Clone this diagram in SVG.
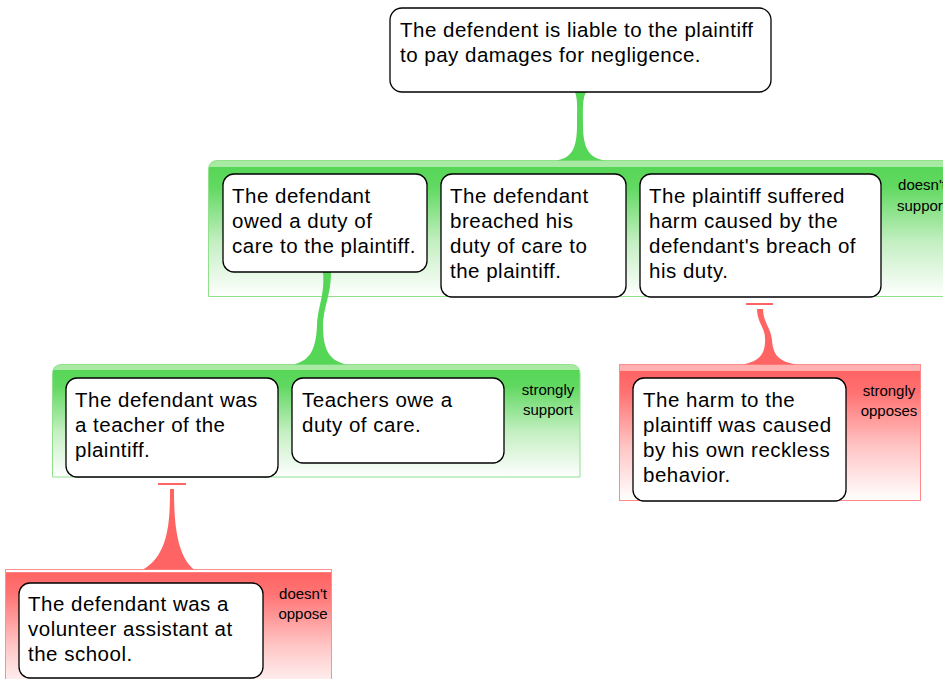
<svg xmlns="http://www.w3.org/2000/svg" width="943" height="679" viewBox="0 0 943 679">
<defs>
<linearGradient id="gGreen" x1="0" y1="0" x2="0" y2="1">
<stop offset="0" stop-color="#a8eaa4"/>
<stop offset="0.045" stop-color="#a8eaa4"/>
<stop offset="0.05" stop-color="#56d656"/>
<stop offset="0.2" stop-color="#62d962"/>
<stop offset="0.6" stop-color="#c4efc2"/>
<stop offset="1" stop-color="#ffffff"/>
</linearGradient>
<linearGradient id="gRed" x1="0" y1="0" x2="0" y2="1">
<stop offset="0" stop-color="#ffb0b0"/>
<stop offset="0.045" stop-color="#ffb0b0"/>
<stop offset="0.05" stop-color="#ff6464"/>
<stop offset="0.2" stop-color="#ff7070"/>
<stop offset="0.6" stop-color="#ffc4c4"/>
<stop offset="1" stop-color="#ffffff"/>
</linearGradient>
<linearGradient id="gRed2" x1="0" y1="0" x2="0" y2="1">
<stop offset="0" stop-color="#ffffff"/>
<stop offset="0.02" stop-color="#ffffff"/>
<stop offset="0.025" stop-color="#ff6464"/>
<stop offset="0.2" stop-color="#ff7474"/>
<stop offset="0.6" stop-color="#ffc4c4"/>
<stop offset="1" stop-color="#ffffff"/>
</linearGradient>
</defs>
<style>
.node rect{fill:#fff;stroke:#000;stroke-width:1.3}
.t{font-family:"Liberation Sans",Arial,sans-serif;font-size:20.5px;letter-spacing:0.5px;fill:#000}
.lbl{font-family:"Liberation Sans",Arial,sans-serif;font-size:15px;fill:#000;text-anchor:middle}
.gbox{fill:url(#gGreen);stroke:#90e08c;stroke-width:1}
.rbox{fill:url(#gRed);stroke:#ff8a8a;stroke-width:1}
.green{fill:#56d656}
.red{fill:#ff6464}
</style>

<g id="group-support-main">
<path class="gbox" d="M208.5,296.5 V170 Q208.5,160.5 218,160.5 H960 V296.5 Z"/>
<text class="lbl" x="922" y="190">doesn't</text>
<text class="lbl" x="922" y="211">support</text>
</g>
<g id="group-support-duty">
<path class="gbox" d="M52.5,477 V374 Q52.5,364.5 62,364.5 H570.5 Q580,364.5 580,374 V477 Z"/>
<text class="lbl" x="548" y="395">strongly</text>
<text class="lbl" x="548" y="415">support</text>
</g>
<g id="group-oppose-harm">
<rect class="rbox" x="619.5" y="364.5" width="301" height="136"/>
<text class="lbl" x="889" y="396">strongly</text>
<text class="lbl" x="889" y="416">opposes</text>
</g>
<g id="group-oppose-teacher">
<rect x="5.5" y="569.5" width="326" height="125" fill="url(#gRed2)" stroke="#ff9090" stroke-width="1"/>
<text class="lbl" x="303" y="599">doesn't</text>
<text class="lbl" x="303" y="619">oppose</text>
</g>

<g id="connectors">
<path class="green" d="M575,92 C578,100 577,110 577,125 C577,150 571,158 556,160.5 L605,160.5 C590,158 583,150 583,125 C583,110 582,100 586,92 Z"/>
<path class="green" d="M323,272 C325,295 318,305 317,325 C316,350 310,360 294,364.5 L346,364.5 C329,360 323,350 323,325 C324,305 331,295 331,272 Z"/>
<rect class="red" x="746" y="303" width="27" height="2"/>
<path class="red" d="M757,309 C757,322 765,328 765,338 C766,355 758,362 742,364.5 L797,364.5 C779,362 773,355 772,340 C771,328 763,322 763,309 Z"/>
<rect class="red" x="158" y="483" width="28" height="2"/>
<path class="red" d="M170,489 C170,520 169,555 143,569.5 L194,569.5 C176,555 174,520 174,489 Z"/>
</g>

<g id="node-claim" class="node">
<rect x="390" y="8" width="381" height="84" rx="12"/>
<text class="t" x="400" y="37">The defendent is liable to the plaintiff</text>
<text class="t" x="400" y="62">to pay damages for negligence.</text>
</g>
<g id="node-duty" class="node">
<rect x="223" y="174" width="204" height="98" rx="11"/>
<text class="t" x="232" y="203">The defendant</text>
<text class="t" x="232" y="228">owed a duty of</text>
<text class="t" x="232" y="253">care to the plaintiff.</text>
</g>
<g id="node-breach" class="node">
<rect x="441" y="174" width="185" height="123" rx="11"/>
<text class="t" x="450" y="203">The defendant</text>
<text class="t" x="450" y="228">breached his</text>
<text class="t" x="450" y="253">duty of care to</text>
<text class="t" x="450" y="278">the plaintiff.</text>
</g>
<g id="node-harm" class="node">
<rect x="640" y="174" width="241" height="123" rx="11"/>
<text class="t" x="649" y="203">The plaintiff suffered</text>
<text class="t" x="649" y="228">harm caused by the</text>
<text class="t" x="649" y="253">defendant's breach of</text>
<text class="t" x="649" y="278">his duty.</text>
</g>
<g id="node-teacher" class="node">
<rect x="66" y="378" width="212" height="99" rx="11"/>
<text class="t" x="75" y="407">The defendant was</text>
<text class="t" x="75" y="432">a teacher of the</text>
<text class="t" x="75" y="457">plaintiff.</text>
</g>
<g id="node-teachers-owe" class="node">
<rect x="292" y="378" width="212" height="85" rx="11"/>
<text class="t" x="302" y="407">Teachers owe a</text>
<text class="t" x="302" y="432">duty of care.</text>
</g>
<g id="node-reckless" class="node">
<rect x="633" y="378" width="213" height="123" rx="11"/>
<text class="t" x="643" y="407">The harm to the</text>
<text class="t" x="643" y="432">plaintiff was caused</text>
<text class="t" x="643" y="457">by his own reckless</text>
<text class="t" x="643" y="482">behavior.</text>
</g>
<g id="node-volunteer" class="node">
<rect x="19" y="583" width="244" height="95" rx="11"/>
<text class="t" x="28" y="611">The defendant was a</text>
<text class="t" x="28" y="636">volunteer assistant at</text>
<text class="t" x="28" y="661">the school.</text>
</g>
</svg>
